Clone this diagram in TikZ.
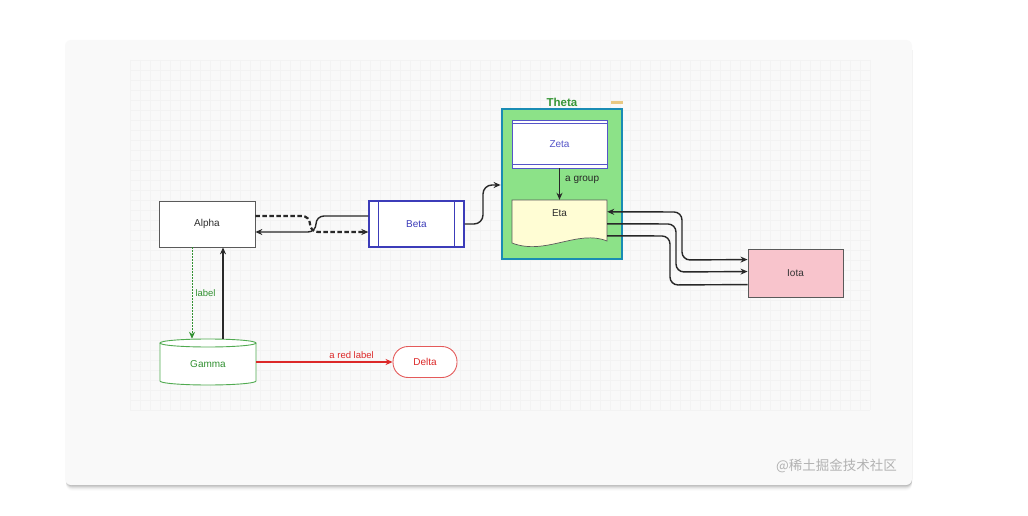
\documentclass[tikz,border=0pt]{standalone}
\usepackage{fontspec}
\setmainfont{Liberation Sans}
\newfontfamily\cjkfont{Noto Sans CJK SC}
\usetikzlibrary{arrows.meta,calc}
\definecolor{cardbg}{RGB}{249,249,249}
\definecolor{gridc}{RGB}{243,243,243}
\definecolor{edgegray}{RGB}{90,90,90}
\definecolor{linedark}{RGB}{40,40,40}
\definecolor{betablue}{RGB}{60,60,185}
\definecolor{zetablue}{RGB}{85,85,200}
\definecolor{thetafill}{RGB}{140,226,136}
\definecolor{thetaedge}{RGB}{25,140,180}
\definecolor{thetagreen}{RGB}{55,150,55}
\definecolor{etafill}{RGB}{255,253,212}
\definecolor{iotafill}{RGB}{248,196,204}
\definecolor{myred}{RGB}{220,40,40}
\definecolor{deltared}{RGB}{228,90,90}
\definecolor{gammagreen}{RGB}{80,170,80}
\definecolor{labelgreen}{RGB}{50,145,50}
\definecolor{wmgray}{RGB}{178,178,178}
\definecolor{orangemark}{RGB}{232,200,130}
\definecolor{textdark}{RGB}{45,45,45}
\begin{document}
\begin{tikzpicture}[x=1pt,y=-1pt,
  every node/.style={font=\fontsize{10}{12}\selectfont, inner sep=0pt, text=textdark},
  plainbox/.style={draw=edgegray, line width=0.7pt, fill=white, minimum width=96pt, minimum height=46pt},
  betabox/.style={draw=betablue, line width=1.3pt, fill=white, text=betablue, minimum width=95pt, minimum height=46pt},
  zetabox/.style={draw=zetablue, line width=0.9pt, fill=white, text=zetablue, minimum width=95pt, minimum height=48pt},
  thetabox/.style={draw=thetaedge, line width=2.8pt, fill=thetafill, minimum width=120pt, minimum height=150pt},
  iotabox/.style={draw=edgegray, line width=0.9pt, fill=iotafill, text=black!80, minimum width=95pt, minimum height=48pt},
  deltabox/.style={draw=deltared, line width=0.9pt, fill=white, text=myred, rounded corners=15pt, minimum width=64pt, minimum height=31pt},
  ghost/.style={draw=none, minimum width=95pt, minimum height=42pt},
  conn/.style={draw=linedark, line width=1.4pt},
  tip/.style={-{Stealth[length=7pt,width=6pt]}},
  lbl/.style={font=\fontsize{9.5}{11}\selectfont}
]
\useasboundingbox (0,0) rectangle (1028,516);
\fill[white] (0,0) rectangle (1028,516);
% card shadow and card
\foreach \d/\o in {1/0.10,2/0.09,3/0.07,4/0.05,5/0.035,6/0.02,7/0.01}
  \fill[black, opacity=\o, rounded corners=6pt] (66,44) rectangle (912,484+\d);
\fill[cardbg, rounded corners=6pt] (65,40) rectangle (912,485);
% faint grid
\foreach \gx in {130,140,...,870} \draw[gridc, line width=0.4pt] (\gx,60) -- (\gx,410);
\foreach \gy in {60,70,...,410} \draw[gridc, line width=0.4pt] (130,\gy) -- (870,\gy);

% group Theta
\node[thetabox] (theta) at (562,184) {};
\node[font=\fontsize{11.5}{13}\selectfont\bfseries, text=thetagreen] (thetat) at (562,102) {Theta};
\fill[orangemark] (611,101.5) rectangle (623,104);

% nodes
\node[plainbox] (alpha) at (207,224) {Alpha};
\node[betabox] (beta) at (416.5,224) {Beta};
\draw[betablue, line width=1.1pt] ([xshift=10pt]beta.north west) -- ([xshift=10pt]beta.south west);
\draw[betablue, line width=1.1pt] ([xshift=-10pt]beta.north east) -- ([xshift=-10pt]beta.south east);

\node[zetabox] (zeta) at (559.5,144) {Zeta};
\draw[zetablue, line width=0.9pt] ([yshift=-4pt]zeta.north west) -- ([yshift=-4pt]zeta.north east);
\draw[zetablue, line width=0.9pt] ([yshift=4pt]zeta.south west) -- ([yshift=4pt]zeta.south east);

\node[ghost] (eta) at (559.5,221) {};
\draw[edgegray, line width=0.7pt, fill=etafill] (512,200) -- (607,200) -- (607,241)
  .. controls (578,229) and (545,256) .. (512,243) -- cycle;
\node (etat) at (559.5,213) {Eta};

\node[iotabox] (iota) at (795.5,273) {Iota};

\node[ghost, minimum width=96pt, minimum height=46pt] (gamma) at (208,362) {};
\draw[gammagreen, line width=0.9pt, fill=white] (160,343) -- (160,381)
  arc[start angle=180, end angle=0, x radius=48, y radius=4] -- (256,343);
\draw[gammagreen, line width=0.9pt, fill=white] (208,343) ellipse[x radius=48, y radius=4];
\node[text=labelgreen] (gammat) at (208,364) {Gamma};

\node[deltabox] (delta) at (425,362) {Delta};

% connectors Alpha <-> Beta
\draw[conn, tip, line width=2.2pt, dash pattern=on 4.5pt off 2.5pt, rounded corners=8pt]
  ($(alpha.east)+(0,-8)$) -- (310,216) -- (310,232) -- ($(beta.west)+(0,8)$);
\draw[conn, tip, rounded corners=8pt]
  ($(beta.west)+(0,-8)$) -- (316,216) -- (316,232) -- ($(alpha.east)+(0,8)$);

% Beta -> Theta
\draw[conn, tip, rounded corners=9pt] (beta.east) -- (483,224) -- (483,185) -- (theta.west |- 0,185);

% Zeta -> Eta
\draw[conn, tip] (zeta.south) -- (eta.north) node[pos=0.35, right=5pt, text=black!85] {a group};

% Eta <-> Iota
\draw[conn, {Stealth[length=7pt,width=6pt]}-{Stealth[length=7pt,width=6pt]}, rounded corners=8pt]
  ($(eta.north east)+(0,12)$) -- (682,212) -- (682,260) -- ($(iota.north west)+(0,11)$);
\draw[conn, tip, rounded corners=8pt]
  ($(eta.north east)+(0,24)$) -- (676,224) -- (676,272) -- ($(iota.north west)+(0,23)$);
\draw[conn, rounded corners=8pt]
  ($(eta.north east)+(0,36)$) -- (670,236) -- (670,285) -- ($(iota.north west)+(0,36)$);

% Alpha <-> Gamma
\draw[labelgreen, line width=1pt, dash pattern=on 1.5pt off 1.5pt, tip] ($(alpha.south)+(-15,0)$) -- ($(gamma.north)+(-16,0)$)
  node[midway, right=3pt, lbl, text=labelgreen] {label};
\draw[conn, tip, line width=1.2pt] ($(gamma.north)+(15,0)$) -- ($(alpha.south)+(16,0)$);

% Gamma -> Delta
\draw[myred, line width=1.2pt, tip] (gamma.east) -- (delta.west)
  node[pos=0.7, above=3pt, lbl, text=myred] {a red label};

% watermark
\node[anchor=east, text=wmgray, font=\fontsize{13.5}{15}\cjkfont] (wm) at (897,466) {@稀土掘金技术社区};
\end{tikzpicture}
\end{document}
